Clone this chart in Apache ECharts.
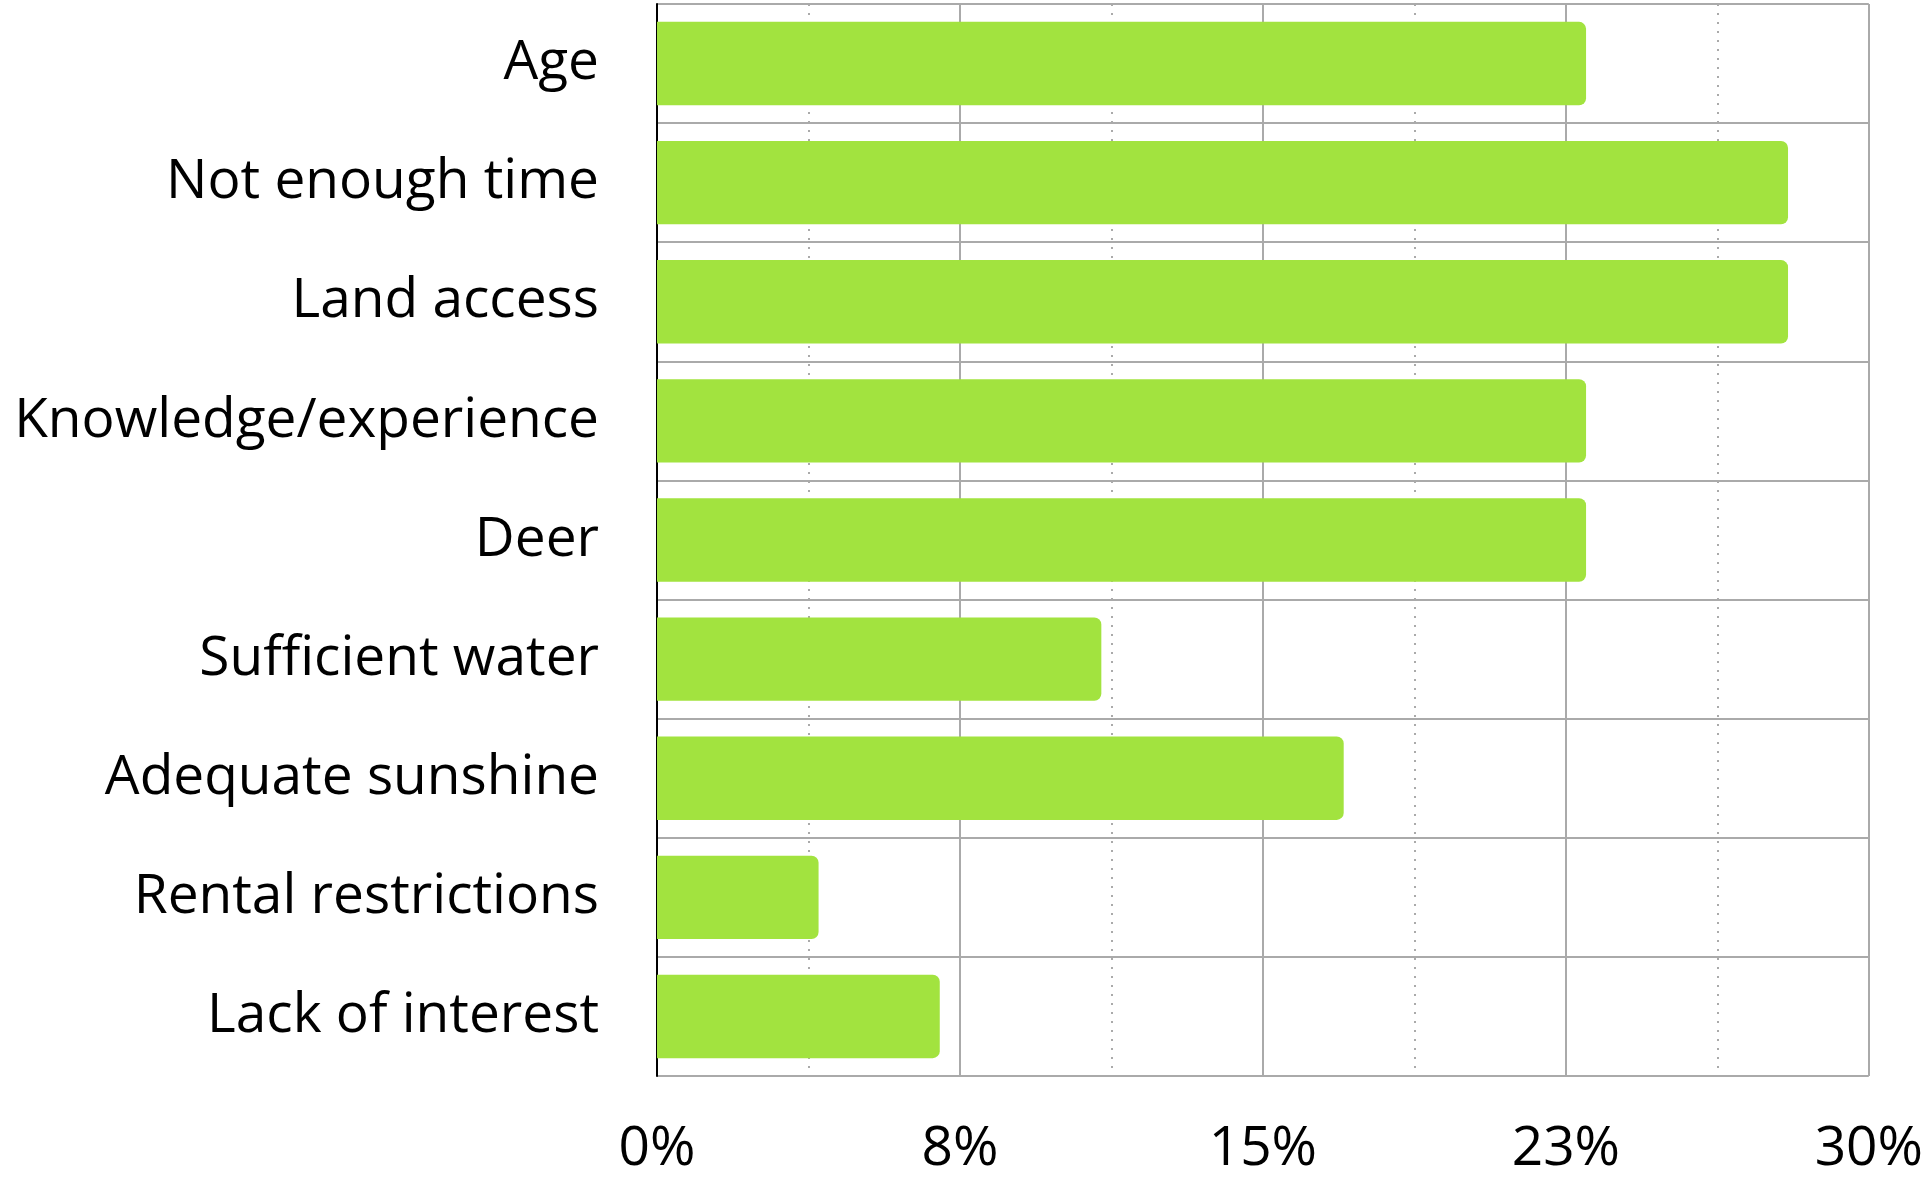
<!DOCTYPE html>
<html>
<head>
<meta charset="utf-8">
<script src="https://cdn.jsdelivr.net/npm/echarts@6/dist/echarts.min.js"></script>
<style>
  html, body { margin: 0; padding: 0; background: #fff; }
  #chart { width: 1926px; height: 1177px; }
</style>
</head>
<body>
<div id="chart"></div>
<script>
// barriers to gardening, percent of respondents
const categories = ['Age', 'Not enough time', 'Land access', 'Knowledge/experience', 'Deer',
  'Sufficient water', 'Adequate sunshine', 'Rental restrictions', 'Lack of interest'];
const values = [23, 28, 28, 23, 23, 11, 17, 4, 7];

const gridColor = '#aaaaaa';
const chart = echarts.init(document.getElementById('chart'));

const option = {
  backgroundColor: '#ffffff',
  animation: false,
  grid: { left: 657, right: 53, top: 4, bottom: 98 },
  xAxis: {
    type: 'value',
    min: 0,
    max: 30,
    interval: 7.5,
    axisLine: { show: false },
    axisTick: { show: false },
    axisLabel: {
      fontFamily: 'Open Sans',
      fontSize: 55,
      color: '#000',
      margin: 46,
      formatter: v => Math.round(v) + '%'
    },
    splitLine: { show: true, lineStyle: { color: gridColor, width: 2 } },
    minorTick: { show: false, splitNumber: 2 },
    minorSplitLine: { show: true, lineStyle: { color: gridColor, width: 2, type: [2, 7] } }
  },
  yAxis: {
    type: 'category',
    inverse: true,
    data: categories,
    axisLine: { show: true, lineStyle: { color: '#000', width: 2 } },
    axisTick: { show: false },
    axisLabel: {
      fontFamily: 'Open Sans',
      fontSize: 55,
      color: '#000',
      margin: 58,
      padding: [10, 0, 0, 0]
    },
    splitLine: { show: true, interval: 0, lineStyle: { color: gridColor, width: 2 } }
  },
  series: [{
    type: 'bar',
    data: values,
    barCategoryGap: '30%',
    itemStyle: { color: '#a2e33f', borderRadius: [0, 7, 7, 0] }
  }]
};

chart.setOption(option);
</script>
</body>
</html>
